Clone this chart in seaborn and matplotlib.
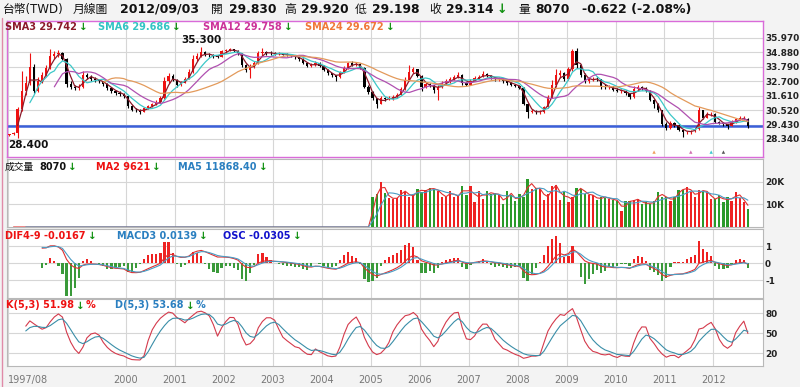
import numpy as np
import pandas as pd
import matplotlib
matplotlib.use("Agg")
import matplotlib.pyplot as plt
from matplotlib.lines import Line2D
import seaborn as sns

# monthly USD/TWD candles, 1997/08 .. 2012/09
start_month = "1997-08"
first_open = 28.62
last_open = 29.83

closes = [
    28.68, 28.80, 30.60, 32.00, 32.60,
    33.80, 31.95, 32.70, 33.20, 33.70, 34.60, 34.75, 34.80, 34.40, 32.50, 32.30, 32.20,
    32.25, 33.20, 33.05, 32.90, 32.80, 32.70, 32.50, 32.20, 32.00, 31.85, 31.75, 31.55,
    30.80, 30.55, 30.50, 30.40, 30.65, 30.80, 30.95, 31.10, 31.40, 32.70, 33.10, 32.80,
    32.45, 32.60, 32.90, 33.40, 34.40, 34.60, 34.90, 34.70, 34.65, 34.60, 34.55, 34.95,
    35.05, 35.10, 35.00, 34.80, 33.90, 33.55, 33.80, 34.10, 34.80, 34.90, 34.85, 34.80,
    34.75, 34.78, 34.72, 34.70, 34.60, 34.50, 34.40, 34.10, 33.85, 33.90, 34.10, 33.85,
    33.55, 33.30, 33.15, 33.00, 33.40, 33.70, 34.05, 33.95, 34.00, 33.70, 32.30, 31.90,
    31.40, 31.00, 31.40, 31.35, 31.40, 31.50, 31.70, 32.10, 32.80, 33.40, 33.60, 33.10,
    32.30, 32.50, 32.40, 32.05, 32.30, 32.55, 32.70, 32.85, 33.00, 33.20, 32.55, 32.45,
    32.75, 32.95, 33.05, 33.25, 33.10, 33.00, 32.85, 32.90, 32.70, 32.60, 32.45, 32.35,
    32.20, 31.00, 30.40, 30.45, 30.35, 30.40, 30.75, 31.50, 32.40, 33.20, 33.30, 32.85,
    33.60, 35.00, 33.90, 33.20, 32.70, 32.85, 32.90, 32.85, 32.30, 32.25, 32.30, 32.05,
    32.00, 32.00, 31.80, 31.50, 32.10, 32.25, 32.20, 32.00, 31.30, 31.00, 30.50, 29.50,
    29.20, 29.55, 29.40, 29.05, 28.85, 28.90, 28.95, 29.10, 30.50, 29.95, 30.20, 30.25,
    29.65, 29.55, 29.45, 29.35, 29.60, 29.85, 29.90, 29.936, 29.314,
]

highs = [
    28.75, 28.88, 30.75, 33.50, 33.10,
    34.80, 34.00, 33.00, 33.40, 33.90, 35.10, 34.95, 35.05, 34.90, 34.45, 32.70, 32.45,
    32.50, 33.45, 33.35, 33.15, 33.00, 32.90, 32.75, 32.55, 32.25, 32.05, 31.95, 31.80,
    31.60, 30.90, 30.70, 30.60, 30.75, 30.90, 31.05, 31.25, 31.55, 33.00, 33.35, 33.25,
    32.90, 32.75, 33.05, 33.60, 34.70, 34.80, 35.30, 35.00, 34.80, 34.75, 34.70, 35.05,
    35.15, 35.20, 35.15, 35.05, 34.85, 34.00, 34.00, 34.25, 34.95, 35.20, 35.00, 34.95,
    34.90, 34.88, 34.85, 34.80, 34.75, 34.65, 34.55, 34.45, 34.15, 34.05, 34.20, 34.15,
    33.90, 33.60, 33.35, 33.20, 33.50, 33.85, 34.15, 34.20, 34.15, 34.05, 33.75, 32.45,
    32.00, 31.45, 31.55, 31.50, 31.55, 31.65, 31.85, 32.25, 33.00, 33.90, 33.80, 33.65,
    33.15, 32.65, 32.60, 32.45, 32.45, 32.70, 32.85, 33.00, 33.15, 33.40, 33.25, 32.65,
    32.90, 33.10, 33.20, 33.50, 33.35, 33.20, 33.05, 33.05, 32.95, 32.75, 32.65, 32.50,
    32.45, 32.25, 31.05, 30.60, 30.55, 30.55, 30.85, 31.65, 32.80, 33.60, 33.55, 33.40,
    33.75, 35.10, 35.25, 34.00, 33.30, 33.00, 33.05, 33.00, 32.90, 32.50, 32.45, 32.35,
    32.20, 32.15, 32.05, 31.85, 32.35, 32.45, 32.35, 32.25, 32.05, 31.35, 31.05, 30.55,
    29.60, 29.70, 29.65, 29.45, 29.10, 28.95, 29.00, 29.15, 30.75, 30.55, 30.35, 30.40,
    30.30, 29.70, 29.60, 29.50, 29.75, 29.95, 30.10, 30.05, 29.92,
]

lows = [
    28.60, 28.65, 28.40, 30.45, 31.70,
    32.40, 31.80, 31.90, 32.60, 33.10, 33.60, 34.40, 34.55, 34.30, 32.30, 32.10, 32.05,
    32.05, 32.20, 32.85, 32.75, 32.65, 32.55, 32.35, 32.05, 31.85, 31.70, 31.60, 31.40,
    30.70, 30.45, 30.35, 30.25, 30.35, 30.60, 30.75, 30.90, 31.05, 31.35, 32.60, 32.70,
    32.30, 32.35, 32.55, 32.85, 33.35, 34.20, 34.50, 34.60, 34.50, 34.45, 34.45, 34.50,
    34.85, 34.95, 34.90, 34.70, 33.80, 33.40, 32.95, 33.70, 34.00, 34.60, 34.70, 34.70,
    34.65, 34.65, 34.65, 34.60, 34.50, 34.40, 34.25, 34.00, 33.75, 33.75, 33.85, 33.75,
    33.45, 33.20, 33.00, 32.75, 32.95, 33.35, 33.65, 33.85, 33.85, 33.60, 32.20, 31.75,
    31.30, 30.65, 30.95, 31.20, 31.25, 31.30, 31.40, 31.65, 32.05, 32.75, 33.30, 33.00,
    31.95, 32.20, 32.30, 31.85, 31.30, 32.20, 32.45, 32.60, 32.80, 32.95, 32.45, 32.35,
    32.40, 32.70, 32.90, 33.00, 33.00, 32.90, 32.75, 32.75, 32.60, 32.45, 32.35, 32.25,
    32.10, 30.90, 29.95, 30.30, 30.25, 30.25, 30.30, 30.70, 31.45, 32.30, 32.95, 32.70,
    32.80, 33.50, 33.70, 33.00, 32.60, 32.60, 32.70, 32.75, 32.15, 32.10, 32.15, 31.95,
    31.90, 31.85, 31.70, 31.35, 31.45, 32.00, 32.05, 31.90, 31.20, 30.65, 30.35, 29.35,
    29.05, 29.10, 29.25, 28.95, 28.50, 28.70, 28.75, 28.85, 29.00, 29.85, 29.90, 30.05,
    29.55, 29.45, 29.30, 29.10, 29.30, 29.55, 29.75, 29.80, 29.198,
]

# volume only reported from 2005/01 on
vol_start = "2005-01"
volumes = [
    13200, 14600, 20000, 15000, 12800, 12600, 12800, 16200, 15500, 13300, 14200, 17000,
    15500, 16500, 17200, 16800, 16000, 13300, 13500, 15800, 13300, 14000, 18000, 14000,
    18200, 11000, 15800, 12500, 15800, 14500, 15000, 14000, 10000, 15800, 14000, 11300,
    14500, 13500, 21400, 17000, 17200, 17000, 12000, 14800, 18200, 18700, 12000, 15500,
    11000, 13300, 17200, 17000, 14800, 14200, 14000, 11800, 13500, 13000, 12500, 12000,
    11500, 7000, 11300, 11300, 12000, 12500, 10000, 11000, 10000, 11500, 15500, 13300,
    13300, 11500, 13300, 16500, 16500, 17500, 15500, 13500, 16200, 16000, 15500, 12200,
    12500, 14000, 11000, 13300, 11700, 15400, 13000, 11172, 8070,
]

# small signal marks at the foot of the price panel
signal_months = ["2010-10", "2011-07", "2011-12", "2012-03"]
signal_colors = ["#f0a060", "#d070b0", "#40c8d0", "#555555"]

price_ticks = [28.34, 29.43, 30.52, 31.61, 32.70, 33.79, 34.88, 35.97]
tick_months = ["1997-08"] + [f"{y}-01" for y in range(2000, 2013)]
tick_labels = ["1997/08"] + [str(y) for y in range(2000, 2013)]

# ---- derived series ----
months = pd.period_range(start_month, periods=len(closes), freq="M")
df = pd.DataFrame({"close": closes, "high": highs, "low": lows})
df["open"] = df["close"].shift(1)
df.loc[0, "open"] = first_open
df.loc[len(df) - 1, "open"] = last_open
idx = np.arange(len(df))

vol = pd.Series(0.0, index=months)
vol.loc[pd.Period(vol_start, "M"):] = volumes
vol = vol.reset_index(drop=True)

sma = {n: df["close"].rolling(n).mean() for n in (3, 6, 12, 24)}
ma2 = vol.rolling(2).mean()
ma5 = vol.rolling(5).mean()

ema4 = df["close"].ewm(span=4, adjust=False).mean()
ema9 = df["close"].ewm(span=9, adjust=False).mean()
dif = ema4 - ema9
macd = dif.ewm(span=3, adjust=False).mean()
osc = dif - macd
dif[:8] = np.nan
macd[:8] = np.nan
osc[:8] = np.nan

lo5 = df["low"].rolling(5).min()
hi5 = df["high"].rolling(5).max()
rsv = (df["close"] - lo5) / (hi5 - lo5) * 100
k_vals, d_vals = [np.nan] * len(df), [np.nan] * len(df)
k_prev = d_prev = 50.0
for i in range(len(df)):
    if np.isnan(rsv[i]):
        continue
    k_prev = k_prev * 2 / 3 + rsv[i] / 3
    d_prev = d_prev * 2 / 3 + k_prev / 3
    k_vals[i], d_vals[i] = k_prev, d_prev

# ---- figure ----
sns.set_theme(style="white")
plt.rcParams["font.family"] = ["DejaVu Sans", "Noto Sans CJK TC"]

W, H = 800, 387
fig = plt.figure(figsize=(W / 100, H / 100), dpi=100, facecolor="#f3f3f3")


def panel(top, bottom):
    return fig.add_axes([7 / W, 1 - bottom / H, 756 / W, (bottom - top) / H])


ax_p = panel(20.5, 157)
ax_v = panel(159, 227)
ax_m = panel(229, 297.5)
ax_k = panel(299, 366)
axes = [ax_p, ax_v, ax_m, ax_k]

tick_pos = [months.get_loc(pd.Period(m, "M")) - 0.45 for m in tick_months]

for ax in axes:
    ax.set_facecolor("white")
    ax.set_xlim(-0.6, 184.7)
    ax.set_xticks(tick_pos)
    ax.yaxis.tick_right()
    ax.tick_params(axis="y", length=0, pad=1.5, labelsize=6.4, labelcolor="#222222")
    ax.grid(True, color="#d6d6d6", lw=0.8)
    ax.set_axisbelow(True)
    for s in ax.spines.values():
        s.set_color("#b8b8b8")
        s.set_linewidth(0.8)
for s in ax_p.spines.values():
    s.set_color("#d96bd9")
    s.set_linewidth(1.0)
for ax in axes[:-1]:
    ax.tick_params(axis="x", length=0, labelbottom=False)

# price panel
up = df["close"] >= df["open"]
ccol = np.where(up, "#ee1111", "#000000")
ax_p.vlines(idx, df["low"], df["high"], colors=ccol, lw=0.8, zorder=3)
body = np.maximum((df["close"] - df["open"]).abs(), 0.03)
ax_p.bar(idx, body, bottom=np.minimum(df["open"], df["close"]), width=0.55,
         color=ccol, linewidth=0, zorder=3)
sma_colors = {3: "#8b1a2a", 6: "#3cc8c8", 12: "#b050b0", 24: "#e39a5b"}
for n, col in sma_colors.items():
    sns.lineplot(x=idx, y=sma[n].values, ax=ax_p, color=col, lw=0.9, legend=False, zorder=4)
ax_p.axhline(df["close"].iloc[-1], color="#3a5fd9", lw=1.8, zorder=2)
ax_p.set_ylim(26.98, 37.29)
ax_p.set_yticks(price_ticks)
ax_p.set_yticklabels([f"{t:.3f}" for t in price_ticks])

sig_pos = [months.get_loc(pd.Period(m, "M")) for m in signal_months]
ax_p.scatter(sig_pos, [27.35] * len(sig_pos), marker="^", s=6, c=signal_colors,
             linewidths=0, zorder=5)

imax = int(np.argmax(highs))
imin = int(np.argmin(lows))
ax_p.annotate(f"{highs[imax]:.3f}", (imax, highs[imax]), xytext=(0, 1), textcoords="offset points",
              ha="center", va="bottom", fontsize=7.5, fontweight="bold", color="#111111")
ax_p.annotate(f"{lows[imin]:.3f}", (imin, lows[imin]), xytext=(-7, -1), textcoords="offset points",
              ha="left", va="top", fontsize=7.5, fontweight="bold", color="#111111")

# volume panel
vcol = np.where(up, "#ee2222", "#2a9a2a")
ax_v.bar(idx, vol, width=0.55, color=vcol, linewidth=0, zorder=3)
sns.lineplot(x=idx, y=ma2.values, ax=ax_v, color="#e03030", lw=0.8, legend=False, zorder=4)
sns.lineplot(x=idx, y=ma5.values, ax=ax_v, color="#4a9cc4", lw=0.8, legend=False, zorder=4)
ax_v.set_ylim(0, 30100)
ax_v.set_yticks([10000, 20000])
ax_v.set_yticklabels(["10K", "20K"])

# MACD panel (histogram drawn on an enlarged scale, as in the source chart)
mcol = np.where(osc > 0, "#ee2222", "#3a9a3a")
ax_m.bar(idx, osc * 6, width=0.55, color=mcol, linewidth=0, zorder=3)
sns.lineplot(x=idx, y=dif.values, ax=ax_m, color="#e03030", lw=0.8, legend=False, zorder=4)
sns.lineplot(x=idx, y=macd.values, ax=ax_m, color="#4a9cc4", lw=0.8, legend=False, zorder=4)
ax_m.set_ylim(-2.0, 2.02)
ax_m.set_yticks([-1, 0, 1])
ax_m.set_yticklabels(["-1", "0", "1"])

# KD panel
sns.lineplot(x=idx, y=k_vals, ax=ax_k, color="#d43a4c", lw=0.8, legend=False, zorder=4)
sns.lineplot(x=idx, y=d_vals, ax=ax_k, color="#3a8ea8", lw=0.8, legend=False, zorder=4)
ax_k.set_ylim(1, 101.5)
ax_k.set_yticks([20, 50, 80])
ax_k.set_yticklabels(["20", "50", "80"])
ax_k.set_xticklabels(tick_labels, fontsize=7, color="#777777")
ax_k.tick_params(axis="x", length=4.5, width=0.8, color="#999999", pad=2)
ax_k.get_xticklabels()[0].set_ha("left")

for ax in axes:
    for lab in ax.get_yticklabels():
        lab.set_fontweight("bold")
    ax.set_xlabel("")
    ax.set_ylabel("")

# header and legend strings
GREEN = "#109010"
fig.canvas.draw()
renderer = fig.canvas.get_renderer()


def put(x, y, s, color="#111111", size=7, weight="bold"):
    t = fig.text(x / W, 1 - y / H, s, ha="left", va="center", color=color,
                 fontsize=size, fontweight=weight)
    return t.get_window_extent(renderer).x1


put(3, 9.5, "台幣(TWD)", size=8.5, weight="normal")
put(73, 9.5, "月線圖", size=8.5, weight="normal")
put(120, 9.5, "2012/09/03", size=9)
put(211, 9.5, "開", size=8.5, weight="normal")
put(229, 9.5, "29.830", size=8.8)
put(284, 9.5, "高", size=8.5, weight="normal")
put(301, 9.5, "29.920", size=8.8)
put(355, 9.5, "低", size=8.5, weight="normal")
put(372, 9.5, "29.198", size=8.8)
put(429, 9.5, "收", size=8.5, weight="normal")
x_end = put(446, 9.5, "29.314", size=8.8)
put(x_end + 3, 9.5, "↓", color=GREEN, size=9)
put(518, 9.5, "量", size=8.5, weight="normal")
put(535, 9.5, "8070", size=8.8)
put(582, 9.5, "-0.622 (-2.08%)", size=9)

legend_rows = [
    (27, [(5, "SMA3 29.742", "#8b1a2a"), (98, "SMA6 29.686", "#33c4c4"),
          (203, "SMA12 29.758", "#cc3399"), (305, "SMA24 29.672", "#f07838")]),
    (166.5, [(39, "8070", "#111111"), (96, "MA2 9621", "#ee1111"),
             (178, "MA5 11868.40", "#2a7fc0")]),
    (236, [(5, "DIF4-9 -0.0167", "#ee1111"), (117, "MACD3 0.0139", "#2a7fc0"),
           (223, "OSC -0.0305", "#1111cc")]),
    (305.5, [(6, "K(5,3) 51.98", "#ee1111"), (115, "D(5,3) 53.68", "#2a7fc0")]),
]
put(5, 166.5, "成交量", size=7, weight="normal")
for y, items in legend_rows:
    for x, s, col in items:
        x1 = put(x, y, s, color=col, size=7)
        x2 = put(x1 + 2, y, "↓", color=GREEN, size=7.5)
        if y == 305.5:
            put(x2 + 1, y, "%", color=col, size=7)

fig.add_artist(Line2D([1.5 / W, 1.5 / W], [0, 1 - 18 / H], color="#e08aa8", lw=1))

fig.savefig("out.png", dpi=100, facecolor=fig.get_facecolor())
